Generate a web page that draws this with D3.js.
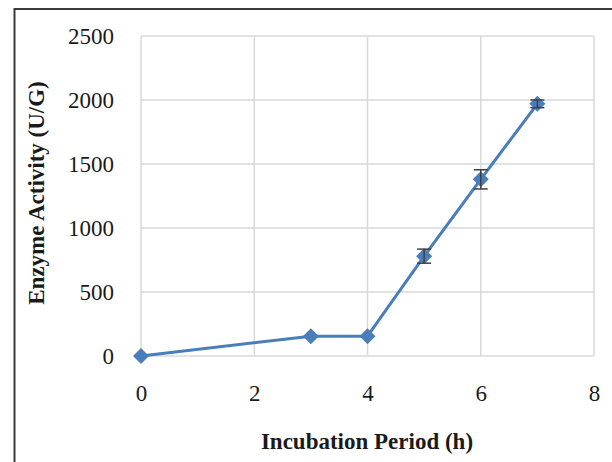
<!DOCTYPE html>
<html>
<head>
<meta charset="utf-8">
<script src="https://cdn.jsdelivr.net/npm/d3@7"></script>
<style>
  html, body { margin: 0; padding: 0; background: #fff; }
  svg { display: block; }
  text { font-family: "Liberation Serif", "Times New Roman", serif; fill: #1a1a1a; }
</style>
</head>
<body>
<svg id="chart" width="612" height="462"></svg>
<script>
// Incubation period (h) and measured enzyme activity (U/G) with standard error
const hours = [0, 3, 4, 5, 6, 7];
const activity = [0, 155, 155, 780, 1380, 1970];
const errors = [0, 0, 0, 55, 75, 30];
const xTicks = [0, 2, 4, 6, 8];
const yTicks = [0, 500, 1000, 1500, 2000, 2500];

const svg = d3.select("#chart");

// outer chart frame (extends past the right and bottom edges)
svg.append("rect")
  .attr("x", 14.5).attr("y", 9)
  .attr("width", 640).attr("height", 480)
  .attr("fill", "none")
  .attr("stroke", "#3a3a3a")
  .attr("stroke-width", 2);

const plot = { left: 141, right: 594, top: 36, bottom: 356 };
const x = d3.scaleLinear().domain([0, 8]).range([plot.left, plot.right]);
const y = d3.scaleLinear().domain([0, 2500]).range([plot.bottom, plot.top]);

const grid = svg.append("g").attr("stroke", "#d9d9d9").attr("stroke-width", 1.5);
grid.selectAll("line.h").data(yTicks).join("line")
  .attr("class", "h")
  .attr("x1", plot.left).attr("x2", plot.right)
  .attr("y1", d => y(d)).attr("y2", d => y(d));
grid.selectAll("line.v").data(xTicks).join("line")
  .attr("class", "v")
  .attr("x1", d => x(d)).attr("x2", d => x(d))
  .attr("y1", plot.top).attr("y2", plot.bottom);

// tick labels via d3 axes, with lines hidden
const xAxis = svg.append("g")
  .attr("transform", `translate(0,${plot.bottom})`)
  .call(d3.axisBottom(x).tickValues(xTicks).tickFormat(d3.format("d")).tickSize(0).tickPadding(29));
const yAxis = svg.append("g")
  .attr("transform", `translate(${plot.left},0)`)
  .call(d3.axisLeft(y).tickValues(yTicks).tickFormat(d3.format("d")).tickSize(0).tickPadding(27));
[xAxis, yAxis].forEach(a => {
  a.select(".domain").remove();
  a.selectAll("text")
    .attr("fill", "#1a1a1a")
    .style("font-family", "'Liberation Serif', serif")
    .style("font-size", "23px");
});

// series line
const blue = "#4a7ebb";
const pts = hours.map((h, i) => ({ h, v: activity[i], e: errors[i] }));
svg.append("path")
  .datum(pts)
  .attr("fill", "none")
  .attr("stroke", blue)
  .attr("stroke-width", 3)
  .attr("stroke-linejoin", "round")
  .attr("d", d3.line().x(d => x(d.h)).y(d => y(d.v)));

// markers
svg.selectAll("path.marker").data(pts).join("path")
  .attr("class", "marker")
  .attr("fill", blue)
  .attr("transform", d => `translate(${x(d.h)},${y(d.v)})`)
  .attr("d", "M0,-8L8,0L0,8L-8,0Z");

// error bars
const eb = svg.append("g").attr("stroke", "#404040").attr("stroke-width", 1.5);
const withErr = pts.filter(d => d.e > 0);
eb.selectAll("line.stem").data(withErr).join("line")
  .attr("class", "stem")
  .attr("x1", d => x(d.h)).attr("x2", d => x(d.h))
  .attr("y1", d => y(d.v + d.e)).attr("y2", d => y(d.v - d.e));
eb.selectAll("line.capTop").data(withErr).join("line")
  .attr("class", "capTop")
  .attr("x1", d => x(d.h) - 7).attr("x2", d => x(d.h) + 7)
  .attr("y1", d => y(d.v + d.e)).attr("y2", d => y(d.v + d.e));
eb.selectAll("line.capBot").data(withErr).join("line")
  .attr("class", "capBot")
  .attr("x1", d => x(d.h) - 7).attr("x2", d => x(d.h) + 7)
  .attr("y1", d => y(d.v - d.e)).attr("y2", d => y(d.v - d.e));

// axis titles
svg.append("text")
  .attr("x", 367).attr("y", 449)
  .attr("text-anchor", "middle")
  .style("font-size", "23px").style("font-weight", "bold")
  .text("Incubation Period (h)");
svg.append("text")
  .attr("transform", "translate(44,193) rotate(-90)")
  .attr("text-anchor", "middle")
  .style("font-size", "23px").style("font-weight", "bold")
  .text("Enzyme Activity (U/G)");
</script>
</body>
</html>
